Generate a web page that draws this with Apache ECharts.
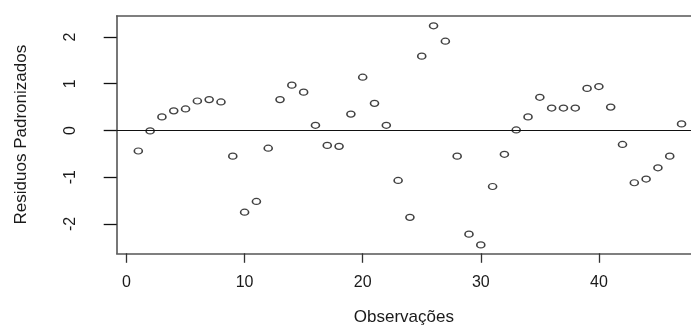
<!DOCTYPE html>
<html>
<head>
<meta charset="utf-8">
<script src="https://cdn.jsdelivr.net/npm/echarts@6/dist/echarts.min.js"></script>
<style>
html,body{margin:0;padding:0;background:#fff;}
#chart{width:691px;height:329px;}
</style>
</head>
<body>
<div id="chart"></div>
<script>
// Observation index
var observacoes = [1,2,3,4,5,6,7,8,9,10,11,12,13,14,15,16,17,18,19,20,21,22,23,24,25,26,27,28,29,30,31,32,33,34,35,36,37,38,39,40,41,42,43,44,45,46,47];
// Standardized residuals
var residuos = [-0.44,-0.01,0.29,0.42,0.46,0.63,0.66,0.61,-0.55,-1.75,
                -1.52,-0.38,0.66,0.97,0.82,0.11,-0.32,-0.34,0.35,1.14,
                0.58,0.11,-1.07,-1.86,1.59,2.24,1.91,-0.55,-2.22,-2.45,
                -1.20,-0.51,0.01,0.29,0.71,0.48,0.48,0.48,0.90,0.94,
                0.50,-0.30,-1.12,-1.04,-0.80,-0.55,0.14];
var xTicks = [0,10,20,30,40];
var yTicks = [-2,-1,0,1,2];

var pts = observacoes.map(function(o,i){ return [o, residuos[i]]; });

var font = 'Liberation Sans';
var textColor = '#1a1a1a';
var boxLine = {show: true, onZero: false, lineStyle: {color: '#555', width: 1.6}};

var chart = echarts.init(document.getElementById('chart'));
chart.setOption({
  animation: false,
  backgroundColor: '#ffffff',
  grid: {left: 116.7, top: 16, right: 0, bottom: 75.7, show: false, containLabel: false, outerBoundsMode: 'none'},
  xAxis: [{
    type: 'value', min: -0.83, max: 47.8, position: 'bottom',
    name: 'Observações', nameLocation: 'middle', nameGap: 56,
    nameTextStyle: {fontFamily: font, fontSize: 17, color: textColor},
    axisLine: boxLine,
    splitLine: {show: false},
    axisTick: {show: true, length: 9.5, customValues: xTicks, lineStyle: {color: '#333', width: 1.3}},
    axisLabel: {customValues: xTicks, margin: 21, fontFamily: font, fontSize: 16, color: textColor}
  }, {
    type: 'value', min: -0.83, max: 47.8, position: 'top',
    axisLine: boxLine,
    axisTick: {show: false}, axisLabel: {show: false}, splitLine: {show: false}
  }],
  yAxis: {
    type: 'value', min: -2.63, max: 2.45,
    name: 'Residuos Padronizados', nameLocation: 'middle', nameGap: 87,
    nameTextStyle: {fontFamily: font, fontSize: 17, color: textColor},
    axisLine: boxLine,
    splitLine: {show: false},
    axisTick: {show: true, length: 13, customValues: yTicks, lineStyle: {color: '#111', width: 1.3}},
    axisLabel: {customValues: yTicks, rotate: 90, margin: 38, fontFamily: font, fontSize: 16, color: textColor}
  },
  series: [{
    type: 'scatter',
    xAxisIndex: 0,
    data: pts,
    symbol: 'path://M0,1A1,1 0 1 1 2,1A1,1 0 1 1 0,1Z',
    symbolSize: [8, 6],
    itemStyle: {color: '#ffffff', borderColor: '#111', borderWidth: 1.4},
    emphasis: {disabled: true},
    markLine: {
      silent: true,
      symbol: ['none','none'],
      label: {show: false},
      lineStyle: {color: '#111', type: 'solid', width: 1.2},
      data: [{yAxis: 0}]
    }
  }]
});
</script>
</body>
</html>
